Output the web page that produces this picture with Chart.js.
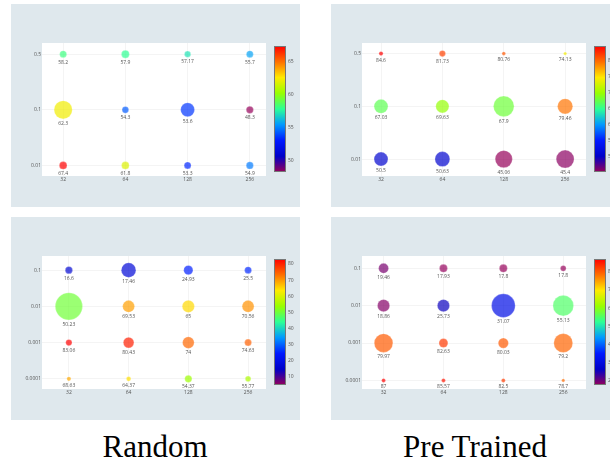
<!DOCTYPE html>
<html>
<head>
<meta charset="utf-8">
<script src="https://cdn.jsdelivr.net/npm/chart.js@4.4.1/dist/chart.umd.min.js"></script>
<style>
  body { margin: 0; background: #fff; width: 610px; height: 464px; overflow: hidden; position: relative; }
  .panel { position: absolute; width: 289px; height: 203px; background: #dfe8ed; }
  .caption { position: absolute; top: 431px; line-height: 31px; font-family: "Liberation Serif", serif; font-size: 31px; color: #000; transform: translateX(-50%); white-space: nowrap; }
</style>
</head>
<body>
<div class="panel" style="left:11px; top:4px"><canvas id="randTop" width="289" height="203"></canvas></div>
<div class="panel" style="left:331px; top:4px"><canvas id="preTop" width="289" height="203"></canvas></div>
<div class="panel" style="left:11px; top:217px"><canvas id="randBottom" width="289" height="203"></canvas></div>
<div class="panel" style="left:331px; top:217px"><canvas id="preBottom" width="289" height="203"></canvas></div>
<div class="caption" style="left:155px">Random</div>
<div class="caption" style="left:475px">Pre Trained</div>
<script>
const xLabels = ['32', '64', '128', '256'];
const yLabelsTop = ['0.01', '0.1', '0.5'];
const yLabelsBottom = ['0.0001', '0.001', '0.01', '0.1'];

// rows go top to bottom as on the picture, columns are 32, 64, 128, 256
const randTopScores = [
  [58.2, 57.9, 57.17, 55.7],
  [62.3, 54.3, 53.6, 48.3],
  [67.4, 61.8, 53.3, 54.9]
];
const randTopSizes = [
  [7, 8, 6.3, 7],
  [18.3, 6.7, 14, 7.3],
  [7.7, 7.7, 7, 7.3]
];
const preTopScores = [
  [84.6, 81.73, 80.76, 74.13],
  [67.03, 69.63, 67.9, 79.46],
  [50.5, 50.63, 45.06, 45.4]
];
const preTopSizes = [
  [4.3, 6.3, 3.7, 3.3],
  [14, 13.3, 20.7, 15.3],
  [14, 15, 17.3, 18]
];
const randBottomScores = [
  [16.6, 17.46, 24.93, 25.5],
  [50.23, 69.53, 65, 70.56],
  [83.06, 80.43, 74, 74.63],
  [68.63, 64.37, 54.37, 55.77]
];
const randBottomSizes = [
  [7.3, 14.7, 9.3, 7],
  [27.3, 12, 12.3, 12],
  [6.3, 10.7, 11.7, 7],
  [4.3, 4.7, 7.3, 5.7]
];
const preBottomScores = [
  [19.46, 17.93, 17.8, 17.8],
  [18.86, 25.73, 31.07, 55.13],
  [79.97, 82.63, 80.03, 79.2],
  [87, 85.57, 82.5, 78.7]
];
const preBottomSizes = [
  [10, 8, 8, 5.7],
  [12.3, 12.3, 23.7, 20.7],
  [18.7, 9, 10.3, 19],
  [4, 4, 4, 3.3]
];

// colour bar ranges and their tick labels
const randTopRange = [48.3, 67.4];
const preTopRange = [45.06, 84.6];
const randBottomRange = [5, 83.06];
const preBottomRange = [17.8, 87];
const randTopBarTicks = [50, 55, 60, 65];
const preTopBarTicks = [50, 55, 60, 65, 70, 75, 80];
const randBottomBarTicks = [10, 20, 30, 40, 50, 60, 70, 80];
const preBottomBarTicks = [20, 30, 40, 50, 60, 70, 80];

const rainbowStops = [
  [0, [150, 0, 90]], [0.125, [0, 0, 200]], [0.25, [0, 25, 255]],
  [0.375, [0, 152, 255]], [0.5, [44, 255, 150]], [0.625, [151, 255, 0]],
  [0.75, [255, 234, 0]], [0.875, [255, 111, 0]], [1, [255, 0, 0]]
];

function rainbow(t, alpha) {
  t = Math.max(0, Math.min(1, t));
  for (let i = 1; i < rainbowStops.length; i++) {
    const [t1, c1] = rainbowStops[i];
    const [t0, c0] = rainbowStops[i - 1];
    if (t <= t1) {
      const f = (t - t0) / (t1 - t0);
      const c = c0.map((v, k) => Math.round(v + (c1[k] - v) * f));
      return `rgba(${c[0]},${c[1]},${c[2]},${alpha})`;
    }
  }
}

const tickFont = { family: '"Open Sans", sans-serif', size: 5 };
const textColor = '#555';
const gridColor = 'rgba(0,0,0,0.045)';

// white plot area on the grey-blue paper
const plotBg = {
  id: 'plotBg',
  beforeDraw(chart) {
    const a = chart.chartArea;
    chart.ctx.save();
    chart.ctx.fillStyle = '#fff';
    chart.ctx.fillRect(a.left, a.top, a.right - a.left, a.bottom - a.top);
    chart.ctx.restore();
  }
};

const pointLabels = {
  id: 'pointLabels',
  afterDatasetsDraw(chart) {
    const ctx = chart.ctx;
    const pts = chart.data.datasets[0].data;
    ctx.save();
    ctx.font = '5px "Open Sans"';
    ctx.fillStyle = textColor;
    ctx.textAlign = 'center';
    ctx.textBaseline = 'top';
    chart.getDatasetMeta(0).data.forEach((el, i) => {
      ctx.fillText(String(pts[i].v), el.x, el.y + pts[i].r + 2);
    });
    ctx.restore();
  }
};

function colorBar(range, ticks) {
  return {
    id: 'colorBar',
    afterDraw(chart) {
      const ctx = chart.ctx;
      const left = 263, top = 42, w = 12, h = 126;
      const grad = ctx.createLinearGradient(0, top + h, 0, top);
      rainbowStops.forEach(([t]) => grad.addColorStop(t, rainbow(t, 1)));
      ctx.save();
      ctx.fillStyle = grad;
      ctx.fillRect(left, top, w, h);
      ctx.strokeStyle = '#777';
      ctx.lineWidth = 1;
      ctx.strokeRect(left + 0.5, top + 0.5, w - 1, h - 1);
      ctx.font = '5px "Open Sans"';
      ctx.fillStyle = textColor;
      ctx.textAlign = 'left';
      ctx.textBaseline = 'middle';
      ticks.forEach(v => {
        const y = top + h - (v - range[0]) / (range[1] - range[0]) * h;
        ctx.fillText(String(v), left + w + 2, y);
      });
      ctx.restore();
    }
  };
}

function makePanel(id, scores, sizes, yLabels, range, barTicks, xRange, yRange) {
  const points = [];
  const colors = [];
  scores.forEach((row, ri) => row.forEach((v, ci) => {
    points.push({ x: ci, y: yLabels.length - 1 - ri, r: sizes[ri][ci] / 2, v: v });
    colors.push(rainbow((v - range[0]) / (range[1] - range[0]), 0.7));
  }));

  new Chart(document.getElementById(id), {
    type: 'bubble',
    data: {
      datasets: [{
        data: points,
        backgroundColor: colors,
        borderColor: 'rgba(255,255,255,0.5)',
        borderWidth: 0.5,
        clip: false
      }]
    },
    options: {
      responsive: false,
      animation: false,
      events: [],
      devicePixelRatio: 1,
      layout: { padding: { left: 0, top: 39, right: 34, bottom: 0 } },
      plugins: { legend: { display: false }, tooltip: { enabled: false } },
      scales: {
        x: {
          type: 'linear',
          min: xRange[0],
          max: xRange[1],
          afterFit: s => { s.height = 31; },
          afterBuildTicks: s => { s.ticks = xLabels.map((_, i) => ({ value: i })); },
          ticks: { callback: v => xLabels[v], font: tickFont, color: textColor, padding: 1, maxRotation: 0, autoSkip: false },
          grid: { color: gridColor, drawTicks: false },
          border: { display: false }
        },
        y: {
          type: 'linear',
          min: yRange[0],
          max: yRange[1],
          afterFit: s => { s.width = 31; },
          afterBuildTicks: s => { s.ticks = yLabels.map((_, i) => ({ value: i })); },
          ticks: { callback: v => yLabels[v], font: tickFont, color: textColor, padding: 1, autoSkip: false },
          grid: { color: gridColor, drawTicks: false },
          border: { display: false }
        }
      }
    },
    plugins: [plotBg, pointLabels, colorBar(range, barTicks)]
  });
}

makePanel('randTop', randTopScores, randTopSizes, yLabelsTop, randTopRange, randTopBarTicks, [-0.34, 3.26], [-0.19, 2.2]);
makePanel('preTop', preTopScores, preTopSizes, yLabelsTop, preTopRange, preTopBarTicks, [-0.31, 3.34], [-0.32, 2.2]);
makePanel('randBottom', randBottomScores, randBottomSizes, yLabelsBottom, randBottomRange, randBottomBarTicks, [-0.45, 3.3], [-0.28, 3.39]);
makePanel('preBottom', preBottomScores, preBottomSizes, yLabelsBottom, preBottomRange, preBottomBarTicks, [-0.36, 3.38], [-0.23, 3.33]);
</script>
</body>
</html>
